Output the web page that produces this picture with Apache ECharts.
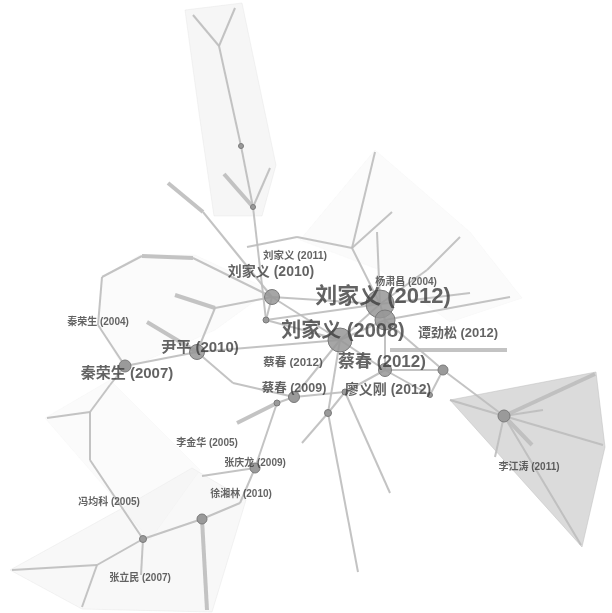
<!DOCTYPE html>
<html><head><meta charset="utf-8">
<script src="https://cdn.jsdelivr.net/npm/echarts@6/dist/echarts.min.js"></script>
<style>html,body{margin:0;padding:0;background:#fff}#c{width:612px;height:613px}</style>
</head><body><div id="c"></div>
<script>
// Network nodes (layout coordinates of the co-citation map)
const nodeX = [193,235,219,241,253,270,224,266,272,380,385,340,385,294,197,125,328,443,504,255,202,143,277,168,193,142,102,98,175,215,147,233,110,90,47,90,97,12,82,141,207,240,202,237,358,390,595,450,543,603,581,532,495,507,460,510,375,352,392,377,297,247,427,302,345,203,390,470,430];
const nodeY = [15,8,46,146,207,168,174,320,297,304,320,340,370,397,352,366,413,370,416,468,519,539,403,183,258,256,277,325,295,308,322,383,385,412,418,460,565,570,607,575,610,503,476,423,572,493,374,400,410,445,545,445,457,350,237,297,152,248,212,232,237,247,270,443,392,212,350,293,395];
const nodeSize = [0,0,0,5,5,0,0,6,15,28,20,24,13,11,15,12,7,10,12,10,10,7,6,0,0,0,0,0,0,0,0,0,0,0,0,0,0,0,0,0,0,0,0,0,0,0,0,0,0,0,0,0,0,0,0,0,0,0,0,0,0,0,0,0,6,0,0,0,5];
// Links as [source, target]
const edgePairs = [[0,2],[1,2],[2,3],[3,4],[4,5],[4,6],[4,7],[23,65],[65,8],[24,8],[25,24],[26,25],[27,26],[27,15],[28,29],[29,14],[29,8],[30,14],[15,14],[14,11],[14,31],[31,13],[15,32],[32,33],[33,34],[33,35],[35,21],[21,20],[21,36],[36,37],[36,38],[21,39],[20,40],[20,41],[41,19],[19,42],[19,22],[43,22],[22,13],[13,11],[16,44],[16,11],[8,11],[8,9],[7,8],[7,11],[9,10],[10,11],[11,12],[12,10],[10,17],[17,18],[18,46],[18,47],[18,48],[18,49],[18,50],[18,51],[18,52],[66,53],[54,62],[62,9],[55,10],[56,57],[58,57],[57,9],[59,9],[60,57],[61,60],[12,64],[64,13],[64,16],[17,12],[64,45],[63,16],[9,7],[11,9],[67,9],[12,68],[68,17]];
// Links drawn heavier (by index into edgePairs)
const heavyLinks = [5,7,10,14,17,32,37,52,57,59];

// Cluster hulls
const hulls = [
  [[185,10],[242,3],[276,165],[262,216],[214,216],[200,120]],
  [[450,400],[596,372],[605,447],[582,547]],
  [[10,570],[82,609],[212,612],[246,500],[192,468],[128,505]],
  [[300,240],[375,150],[470,232],[522,298],[450,322],[380,270]],
  [[45,418],[110,380],[200,470],[150,540],[90,470]],
  [[140,255],[195,255],[270,290],[215,330],[125,370],[98,325],[102,277]]
];
const hullFill = ['rgba(235,235,235,0.45)','rgba(175,175,175,0.45)','rgba(235,235,235,0.35)','rgba(242,242,242,0.3)','rgba(242,242,242,0.3)','rgba(242,242,242,0.3)'];
const hullEdge = ['rgba(220,220,220,0.3)','rgba(190,190,190,0.5)','rgba(220,220,220,0.3)','rgba(230,230,230,0.15)','rgba(230,230,230,0.15)','rgba(230,230,230,0.15)'];

// Labels
const labelText = ['刘家义 (2011)','刘家义 (2010)','杨肃昌 (2004)','刘家义 (2012)','刘家义 (2008)','谭劲松 (2012)','尹平 (2010)','秦荣生 (2004)','秦荣生 (2007)','蔡春 (2012)','蔡春 (2012)','蔡春 (2009)','廖义刚 (2012)','李金华 (2005)','张庆龙 (2009)','徐湘林 (2010)','冯均科 (2005)','张立民 (2007)','李江涛 (2011)'];
const labelX = [295,271,406,383,343,458,200,98,127,293,382,294,388,207,255,241,109,140,529];
const labelY = [256,272,282,297,331,333,348,322,374,363,362,389,390,443,463,494,502,578,467];
const labelSize = [10.5,14,10,22,20,13,15,10,15,11.5,17,12.5,14,10,10,10,10,10,10];

const chart = echarts.init(document.getElementById('c'));
const nodes = nodeX.map((x,i)=>({
  value:[x,nodeY[i]], symbolSize:nodeSize[i],
  itemStyle:{color: nodeSize[i]>=13 ? 'rgba(150,150,150,0.85)' : '#9a9a9a', borderColor:'#7a7a7a', borderWidth: nodeSize[i]>0?1:0}
}));
const links = edgePairs.map((p,i)=>({source:p[0],target:p[1],lineStyle:{width: heavyLinks.includes(i)?4:2}}));
const labels = labelText.map((t,i)=>({name:t,value:[labelX[i],labelY[i]],label:{fontSize:labelSize[i]}}));

chart.setOption({
  animation:false,
  backgroundColor:'#fff',
  grid:{left:0,right:0,top:0,bottom:0},
  xAxis:{type:'value',min:0,max:612,show:false},
  yAxis:{type:'value',min:0,max:613,inverse:true,show:false},
  series:[
    {type:'custom',coordinateSystem:'cartesian2d',data:hulls.map((h,i)=>i),z:1,silent:true,
     renderItem:(params,api)=>{
       const h = hulls[params.dataIndex];
       return {type:'polygon',shape:{points:h.map(p=>api.coord(p))},
         style:{fill:hullFill[params.dataIndex],stroke:hullEdge[params.dataIndex],lineWidth:1}};
     }},
    {type:'graph',coordinateSystem:'cartesian2d',layout:'none',z:2,
     data:nodes,links:links,symbol:'circle',
     lineStyle:{color:'#bcbcbc',opacity:0.9,curveness:0},
     label:{show:false},emphasis:{disabled:true}},
    {type:'scatter',z:3,data:labels,symbolSize:0,silent:true,
     label:{show:true,position:'inside',formatter:'{b}',color:'#3c3c3c',fontWeight:'bold',
       fontFamily:'"Liberation Sans","Noto Sans CJK SC",sans-serif'}}
  ]
});
</script></body></html>
